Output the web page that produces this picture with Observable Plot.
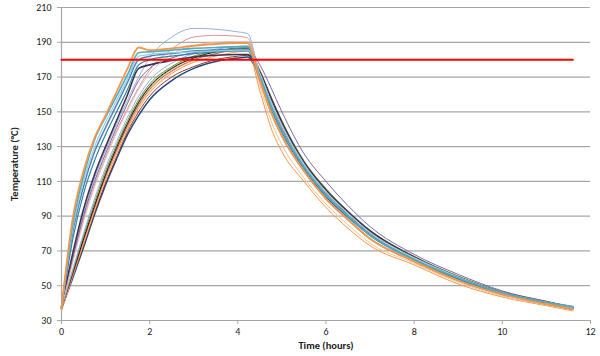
<!DOCTYPE html>
<html>
<head>
<meta charset="utf-8">
<script src="https://cdn.jsdelivr.net/npm/d3@7"></script>
<script src="https://cdn.jsdelivr.net/npm/@observablehq/plot@0.6"></script>
<style>
  html, body { margin: 0; padding: 0; background: #fff; }
</style>
</head>
<body>
<div id="chart"></div>
<script>
// Time axis (hours) shared by all series
const times = [0, 0.25, 0.5, 0.75, 1, 1.25, 1.5, 1.75, 2, 2.5, 3, 3.5, 4, 4.22, 4.5, 4.75, 5, 5.5, 6, 6.5, 7, 8, 9, 10, 11, 11.6];

// Temperature series (°C), one per thermocouple
const s01 = [37, 54, 72, 91, 108, 123, 137, 148, 157, 168, 175, 179, 181, 181.5, 169.5, 152.5, 138.5, 117.5, 101.5, 89.5, 79, 65, 54, 45.5, 40, 37];
const s02 = [36, 55, 73, 92, 109, 124, 138.5, 150, 159, 170, 176, 180, 182, 182.5, 171, 155, 141, 119.5, 103.5, 91, 80, 65.5, 54.5, 46, 40.5, 37.5];
const s03 = [35.5, 55, 74, 93, 111, 126, 140, 152, 161, 172, 178.5, 182, 184.5, 185, 162, 141, 127, 110, 95, 83, 73, 62, 51, 43.5, 38.5, 35.5];
const s04 = [36, 56, 75, 94, 112, 127, 141, 153, 162, 173, 179.5, 183.5, 186, 186.5, 165, 145, 131, 112, 97, 85, 74.5, 63, 52, 44, 39, 36];
const s05 = [37, 57, 77, 96, 114, 129, 143, 155, 164, 174.5, 181, 184.5, 186.5, 187, 174, 159, 145, 122, 106, 93, 82, 67, 55.5, 46.5, 41, 37.5];
const s06 = [38, 58, 78, 97, 115, 130, 144, 156, 165, 175.5, 182, 185, 187, 187.5, 172, 156, 142, 120, 104, 91.5, 80.5, 66, 55, 46, 40.5, 37.5];
const s07 = [37, 56, 76, 95, 113, 128, 142, 154, 163, 173.5, 180, 183.5, 185.5, 185.5, 170, 153, 139, 118, 102, 90, 79, 65, 54, 45.5, 40, 37];
const s08 = [37, 57, 77, 96, 114, 129.5, 143.5, 155.5, 164.5, 175, 181, 184.5, 186.5, 186.5, 170.5, 153.5, 139.5, 118.5, 102.5, 90.5, 79.5, 65.5, 54.5, 45.5, 40, 37];
const s09 = [37, 58, 79, 98, 116, 131, 145, 157, 166, 176, 182, 185, 186.5, 187, 173.5, 158.5, 144.5, 121.5, 105.5, 92.5, 81.5, 66.5, 55.5, 46.5, 41, 37.5];
const s10 = [37, 59, 80, 100, 118, 133, 147, 159, 168, 178, 183.5, 186, 187.5, 188, 172.5, 156.5, 142.5, 120.5, 104, 92, 81, 66, 55, 46, 40.5, 37.5];
const s11 = [37, 64, 88, 108, 124, 139, 152, 164, 174, 186, 193, 194, 193.5, 192.5, 172, 156, 142, 120, 104, 91.5, 80.5, 66, 55, 46, 40.5, 37.5];
const s12 = [37, 66, 91, 112, 128, 143, 157, 170, 181, 193, 198, 197.5, 196, 195, 171, 154, 140, 119, 103, 90.5, 79.5, 65.5, 54.5, 45.5, 40, 37];
const s13 = [37, 65, 90, 110, 126, 141, 155, 168, 175, 181, 184, 185.5, 186, 186, 177, 164, 150, 126, 110, 96, 84, 68, 56.5, 47, 41, 38];
const s14 = [38, 68, 94, 114, 130, 145, 160, 175, 177, 179.5, 181.5, 182.5, 183, 183, 173, 158, 144, 121, 105, 92.5, 81.5, 66.5, 55, 46, 40.5, 37.5];
const s15 = [37, 63, 87, 107, 123, 138, 151, 163, 172, 183, 188, 190, 190.5, 190.5, 172, 156, 142, 120, 104, 91.5, 80.5, 66, 55, 46, 40.5, 37.5];
const s16 = [37, 76, 103, 122, 137, 150, 163, 177, 180, 182, 183.5, 184.5, 185, 185, 170, 153, 139, 118, 102, 90, 79, 65, 54, 45.5, 40, 37.5];
const s17 = [37, 80, 107, 127, 141, 154, 167, 180, 182, 183.5, 185, 185.5, 186, 186, 168, 150, 136, 116, 100, 88, 77, 64, 53, 45, 39.5, 36.5];
const s18 = [37, 82, 110, 130, 144, 156.5, 169, 182, 183, 184, 184.5, 185, 185.5, 185.5, 172, 156, 142, 120, 104, 91.5, 80.5, 66, 55, 46, 40.5, 37.5];
const s19 = [37, 85, 113, 134, 147, 159, 171.5, 184, 184.5, 185.5, 186.5, 187, 187.5, 187.5, 170, 153, 139, 118, 102, 90, 79, 65, 54.5, 46, 40.5, 38];
const s20 = [37, 88, 116, 135, 148, 161.5, 175, 187, 185.5, 186.5, 188, 189, 189.5, 189.5, 168, 150, 136, 116, 100, 88, 77, 64, 53, 45, 39.5, 36.5];

const seriesValues = [s01, s02, s03, s04, s05, s06, s07, s08, s09, s10, s11, s12, s13, s14, s15, s16, s17, s18, s19, s20];
const seriesColors = ["#1F497D", "#943634", "#F79646", "#FAC090", "#9BBB59", "#C3D69B", "#C0504D", "#1a1a1a", "#76923C", "#8DB3E2",
                      "#D99694", "#95B3D7", "#8064A2", "#403152", "#E6B9B8", "#31859C", "#4F81BD", "#93CDDD", "#4BACC6", "#F79646"];
const seriesWidths = [1.5, 1, 1, 1, 1, 1, 1, 1, 1, 1, 1, 1, 1, 1.6, 1, 1.2, 1.5, 1.2, 1.6, 1.8];

// Specification limit line
const limitTemp = 180;
const limitSpan = [0, 11.6];

// Axis ticks
const xTicks = [0, 2, 4, 6, 8, 10, 12];
const yTicks = [30, 50, 70, 90, 110, 130, 150, 170, 190, 210];

const seriesMarks = seriesValues.map((vals, i) =>
  Plot.line(times.map((t, j) => ({t, v: vals[j]})), {
    x: "t", y: "v", stroke: seriesColors[i], strokeWidth: seriesWidths[i], curve: "monotone-x"
  })
);

const limitData = limitSpan.map(t => ({t, v: limitTemp}));

const chart = Plot.plot({
  width: 600,
  height: 356,
  marginLeft: 61,
  marginRight: 10,
  marginTop: 7,
  marginBottom: 36,
  style: {fontFamily: "Carlito, Lato, 'Open Sans', sans-serif", fontSize: "10px", color: "#222", background: "#fff"},
  x: {domain: [0, 12]},
  y: {domain: [30, 210]},
  marks: [
    Plot.gridY(yTicks, {stroke: "#a6a6a6", strokeOpacity: 1, strokeWidth: 1.2}),
    Plot.ruleX([0], {stroke: "#a6a6a6", strokeWidth: 1.2}),
    Plot.ruleY([30], {stroke: "#a6a6a6", strokeWidth: 1.2}),
    Plot.axisY(yTicks, {tickSize: 4, tickPadding: 6, stroke: "#a6a6a6", fill: "#222", label: null}),
    Plot.axisX(xTicks, {tickSize: 4, tickPadding: 3, stroke: "#a6a6a6", fill: "#222", label: null}),
    ...seriesMarks,
    Plot.line(limitData, {x: "t", y: "v", stroke: "#ff0000", strokeWidth: 2}),
    Plot.text(["Time (hours)"], {frameAnchor: "bottom", dy: 25, fontWeight: "bold", fontSize: 10.5, fill: "#222", textAnchor: "middle", lineAnchor: "middle"}),
    Plot.text(["Temperature (°C)"], {frameAnchor: "left", dx: -47, rotate: -90, fontWeight: "bold", fontSize: 10.5, fill: "#222", textAnchor: "middle", lineAnchor: "middle"})
  ]
});

document.getElementById("chart").appendChild(chart);
</script>
</body>
</html>
